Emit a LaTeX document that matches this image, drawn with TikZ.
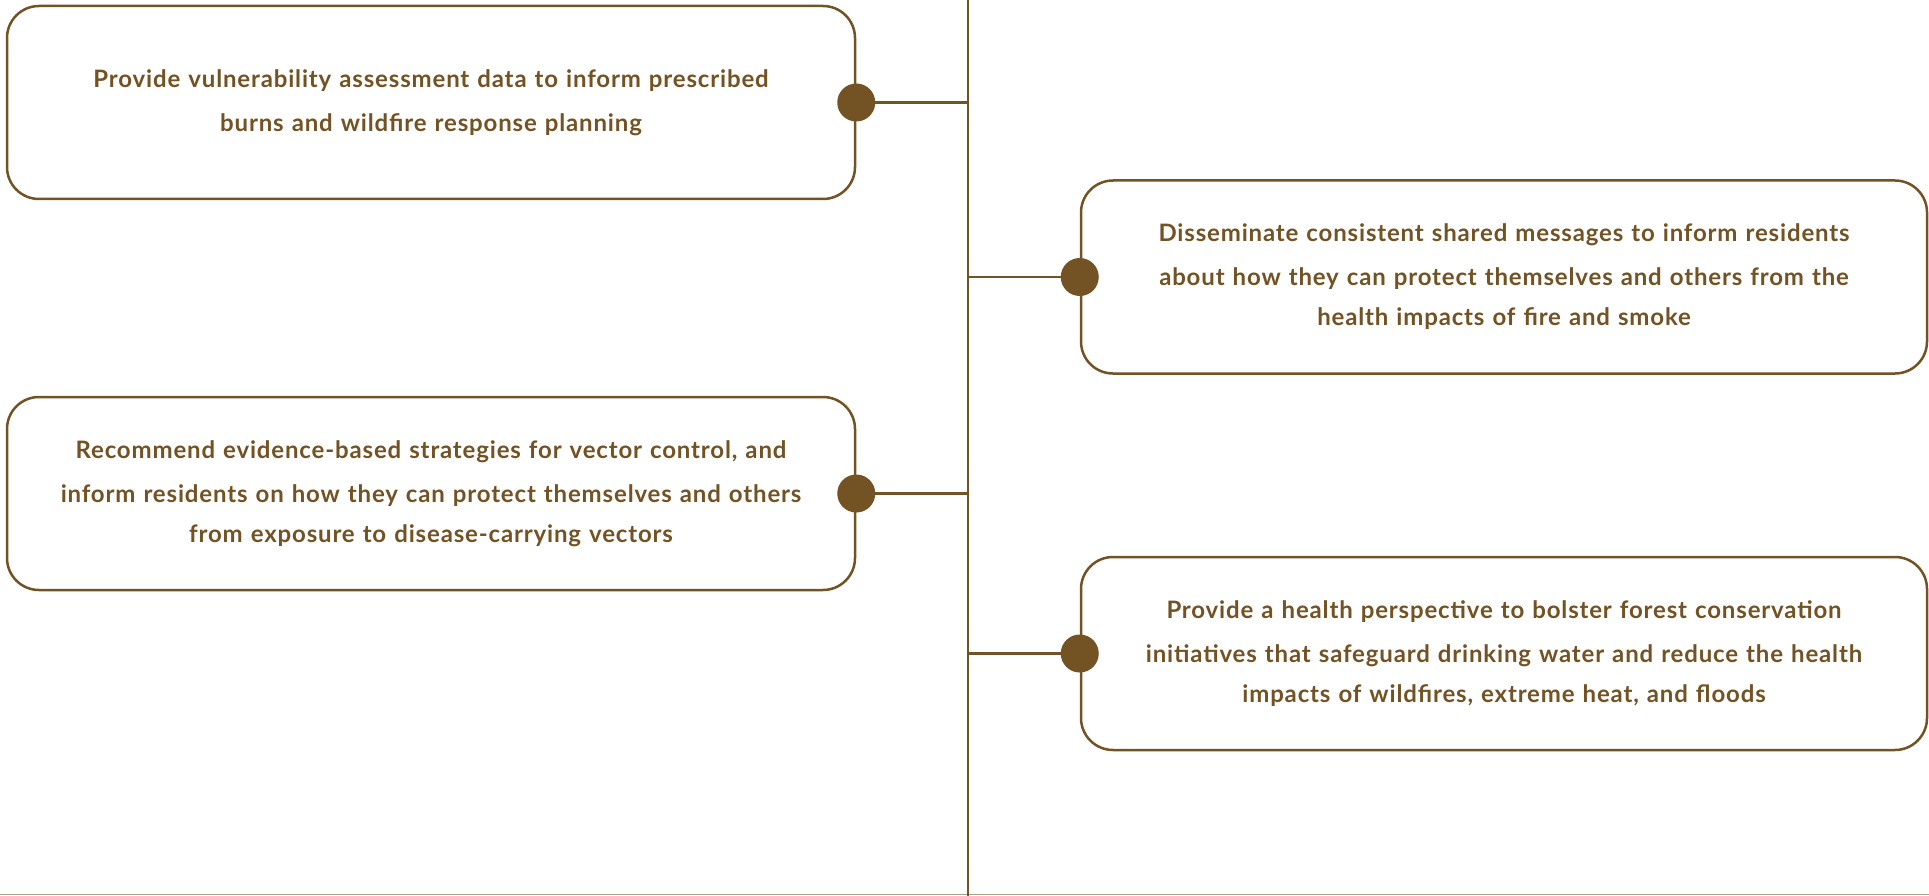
\documentclass[tikz,border=0pt]{standalone}
\usepackage{fontspec}
\setmainfont{Lato}[LetterSpace=3.5]
\usepackage{xcolor}
\definecolor{bark}{RGB}{115,82,36}
\definecolor{rule}{RGB}{168,160,140}

\begin{document}
\begin{tikzpicture}[x=1pt,y=-1pt,
  card/.style={draw=bark,line width=2.5pt,rounded corners=32pt,fill=white,
    minimum width=848pt,minimum height=193pt,text width=800pt,align=center,
    font=\fontsize{24}{40}\selectfont\bfseries,text=bark,inner sep=0pt,
    execute at begin node=\vspace*{4pt}},
  knob/.style={circle,fill=bark,minimum size=38pt,inner sep=0pt},
  wire/.style={draw=bark,line width=2.5pt}]
\useasboundingbox (0,0) rectangle (1929,896);
\draw[rule,line width=1.2pt] (0,894.6) -- (1929,894.6);
% spine
\coordinate (top) at (968,0);
\coordinate (bot) at (968,896);
\draw[wire] (top) -- (bot);
% left column
\node[card] (burns) at (431,102.5) {Provide vulnerability assessment data to inform prescribed\\burns and wildfire response planning};
\node[card] (vector) at (431,493.5) {Recommend evidence-based strategies for vector control, and\\inform residents on how they can protect themselves and others\\from exposure to disease-carrying vectors};
% right column
\node[card,minimum width=846pt] (smoke) at (1504,277) {Disseminate consistent shared messages to inform residents\\about how they can protect themselves and others from the\\health impacts of fire and smoke};
\node[card,minimum width=846pt] (forest) at (1504,653.5) {Provide a health perspective to bolster forest conservation\\initiatives that safeguard drinking water and reduce the health\\impacts of wildfires, extreme heat, and floods};
% dots and links
\node[knob] (k1) at (burns.east) {};
\node[knob] (k2) at (vector.east) {};
\node[knob] (k3) at (smoke.west) {};
\node[knob] (k4) at (forest.west) {};
\draw[wire] (k1) -- (k1 -| top);
\draw[wire] (k2) -- (k2 -| top);
\draw[wire] (k3) -- (k3 -| top);
\draw[wire] (k4) -- (k4 -| top);
\end{tikzpicture}
\end{document}
